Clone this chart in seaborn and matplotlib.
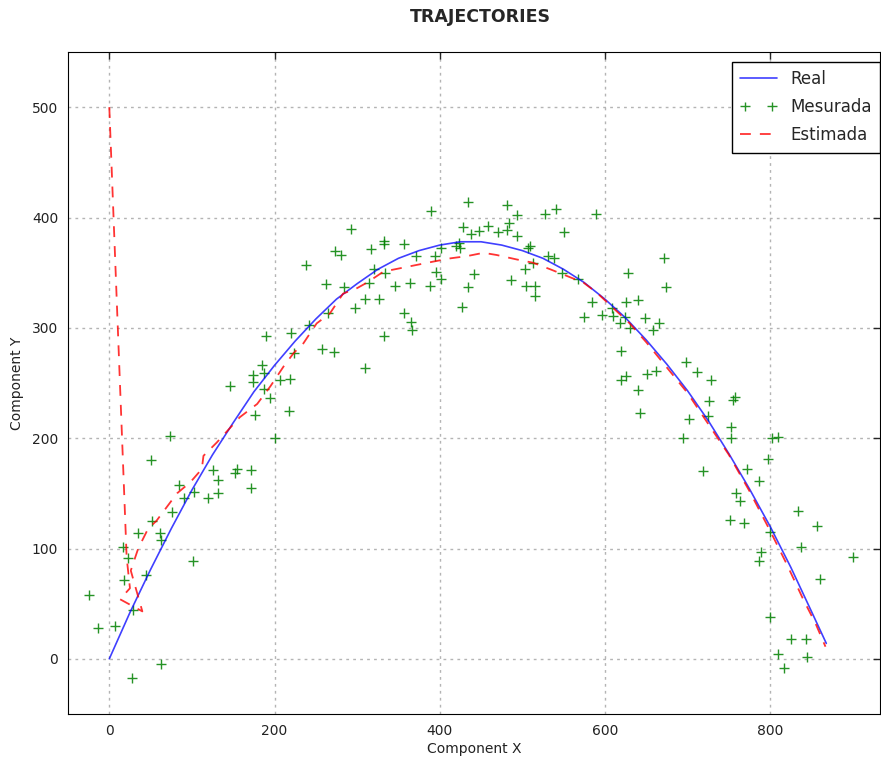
import seaborn as sns
import numpy as np
import pandas as pd
import matplotlib
matplotlib.use("Agg")
import matplotlib.pyplot as plt

# real trajectory
real_x = [0, 25, 50, 75, 100, 125, 150, 175, 200, 225, 250, 275, 300, 325, 350, 375,
          400, 425, 450, 475, 500, 525, 550, 575, 600, 625, 650, 675, 700, 725, 750,
          775, 800, 825, 850, 868]
real_y = [0, 42, 81, 118, 153, 185, 214, 242, 266, 288, 308, 326, 340, 353, 363, 370,
          375, 378, 378, 375, 370, 363, 353, 341, 326, 309, 289, 267, 243, 216, 186,
          154, 120, 83, 43, 14]

# measured points
meas_x = [185, 174, 174, 187, 187, 146, 194, 207, 219, 176, 217, 223, 200, 74, 50,
          125, 154, 171, 152, 131, 172, 84, 102, 131, 120, 91, 76, 52, 35, 61,
          63, 16, 23, 101, 44, 18, -24, 29, 7, -14, 63, 27,
          434, 390, 482, 494, 527, 541, 589, 292, 428, 438, 448, 458, 470, 481, 484,
          493, 550, 332, 332, 357, 317, 273, 280, 238, 371, 394, 402, 420, 424, 423,
          509, 507, 531, 538, 320, 334, 396, 442, 503, 513, 548, 568, 401, 262, 284,
          314, 346, 364, 388, 434, 486, 505, 515, 515, 298, 310, 326, 427, 357, 365,
          367, 584, 575, 242, 265, 190, 220, 332, 257, 272, 309,
          671, 628, 674, 597, 608, 610, 626, 640, 624, 648, 618, 630, 666, 658, 620,
          698, 711, 662, 651, 626, 620, 728, 640, 726, 757, 755, 642, 702, 725, 753,
          695, 753, 802, 809, 798, 719, 772, 786, 759, 764, 751, 768, 834, 857, 800,
          837, 900, 789, 787, 860, 800, 825, 843, 809, 845, 817]
meas_y = [266, 257, 251, 259, 245, 247, 236, 253, 254, 221, 225, 277, 200, 202, 180,
          171, 172, 171, 168, 162, 155, 158, 151, 150, 146, 146, 133, 125, 114, 114,
          108, 101, 91, 89, 76, 71, 58, 44, 30, 28, -5, -17,
          414, 406, 411, 402, 403, 408, 403, 390, 391, 385, 388, 392, 387, 389, 395,
          383, 387, 379, 376, 376, 371, 370, 366, 357, 365, 365, 372, 374, 372, 377,
          374, 372, 365, 363, 353, 350, 351, 349, 353, 359, 350, 344, 344, 340, 337,
          341, 338, 341, 338, 337, 343, 338, 338, 329, 318, 326, 326, 319, 313, 305,
          298, 323, 310, 303, 313, 293, 295, 293, 281, 278, 264,
          363, 350, 337, 312, 318, 311, 323, 325, 310, 309, 304, 300, 304, 298, 279,
          269, 260, 261, 258, 256, 253, 253, 244, 234, 237, 235, 223, 217, 220, 210,
          200, 200, 200, 201, 181, 170, 172, 161, 150, 143, 126, 123, 134, 120, 115,
          101, 92, 97, 89, 72, 38, 18, 18, 4, 2, -8]

# estimated trajectory
est_x = [0, 21, 25, 13, 40, 26, 35, 47, 57, 70, 82, 98, 112, 114, 130, 158, 179, 195,
         211, 223, 235, 251, 267, 283, 300, 312, 332, 352, 372, 392, 413, 433, 453,
         469, 493, 513, 534, 554, 574, 590, 610, 630, 650, 675, 700, 725, 750, 775,
         800, 820, 840, 855, 867]
est_y = [500, 92, 64, 54, 43, 80, 100, 118, 125, 138, 150, 160, 172, 184, 196, 219,
         231, 247, 265, 277, 286, 304, 313, 331, 336, 341, 351, 354, 357, 360, 363,
         365, 368, 366, 362, 359, 353, 347, 341, 332, 318, 304, 287, 264, 241, 213,
         185, 152, 116, 86, 54, 32, 11]

sns.set_style("white", {"axes.edgecolor": "0", "axes.linewidth": 1.0})
plt.rcParams["font.family"] = ["DejaVu Sans"]

fig = plt.figure(figsize=(8.81, 7.58), dpi=100)
ax = fig.add_axes([68 / 881, 44 / 758, 812 / 881, 662 / 758])

real_df = pd.DataFrame({"x": real_x, "y": real_y})
meas_df = pd.DataFrame({"x": meas_x, "y": meas_y})
est_df = pd.DataFrame({"x": est_x, "y": est_y})

sns.lineplot(data=real_df, x="x", y="y", sort=False, estimator=None, ax=ax,
             color="#0000ff", alpha=0.75, linewidth=1.2, label="Real")
sns.scatterplot(data=meas_df, x="x", y="y", ax=ax, marker="+", color="#008000",
                s=50, linewidth=1.0, alpha=0.85, label="Mesurada")
sns.lineplot(data=est_df, x="x", y="y", sort=False, estimator=None, ax=ax,
             color="#ff0000", alpha=0.8, linewidth=1.3, linestyle="--",
             dashes=False, label="Estimada")
ax.lines[-1].set_dashes([6, 5])

ax.set_xlim(-50, 933)
ax.set_ylim(-50, 550)
ax.set_xticks([0, 200, 400, 600, 800])
ax.set_yticks([0, 100, 200, 300, 400, 500])
ax.grid(True, color="#b4b4b4", linestyle=(0, (2, 3)), linewidth=1.0)
ax.tick_params(direction="in", top=True, right=True, length=5, width=1,
               labelsize=10, labelcolor="#222222", pad=7)
ax.set_xlabel("Component X", fontsize=10, color="#222222", labelpad=3)
ax.set_ylabel("Component Y", fontsize=10, color="#222222", labelpad=6)

leg = ax.legend(loc="upper right", bbox_to_anchor=(1.0, 1 - 10 / 662),
                borderaxespad=0.0, fontsize=12, frameon=True, fancybox=False,
                scatterpoints=2, scatteryoffsets=[0.5], handlelength=2.2,
                borderpad=0.5, labelspacing=0.6)
leg.get_frame().set_edgecolor("black")
leg.get_frame().set_linewidth(1.0)
leg.get_frame().set_alpha(1.0)

fig.text(480 / 881, 1 - 17 / 758, "TRAJECTORIES", ha="center", va="center",
         fontsize=12.5, fontweight="bold")

fig.savefig("out.png", dpi=100)
